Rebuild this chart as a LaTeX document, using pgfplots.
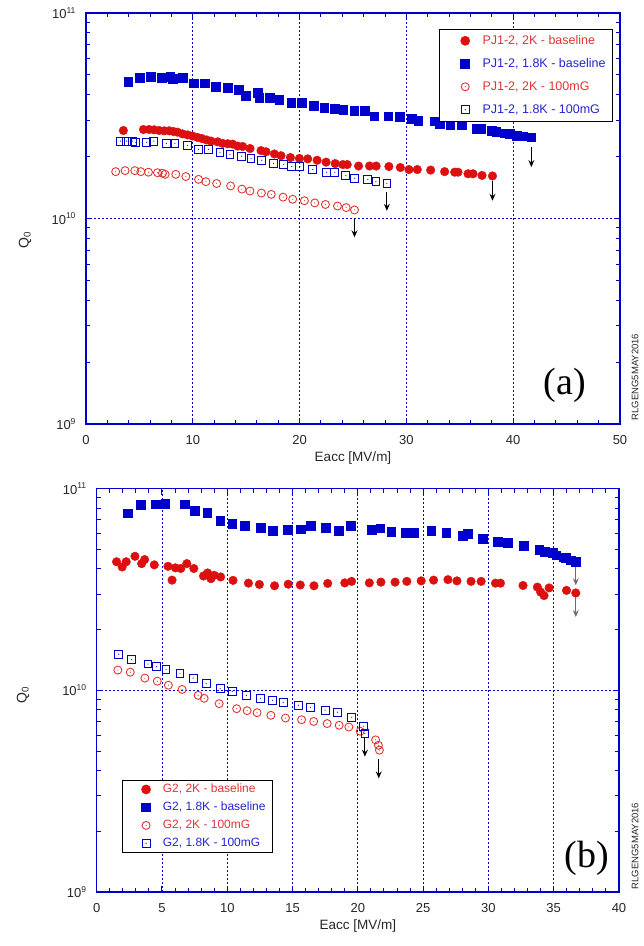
\documentclass[border=0pt]{standalone}
\usepackage{fontspec}
\setmainfont{Liberation Sans}
\newfontfamily\seriffont{Liberation Serif}
\usepackage{pgfplots}
\pgfplotsset{compat=1.18}
\usetikzlibrary{arrows.meta}
\definecolor{qblue}{HTML}{0000CC}
\definecolor{qred}{HTML}{DD1010}
\definecolor{lred}{HTML}{E33434}
\definecolor{lblue}{HTML}{2424D4}
\definecolor{arrgray}{HTML}{6E6E6E}
\newcommand{\dec}[1]{10\raisebox{0.42em}{\fontsize{8.5}{9}\selectfont #1}}
% open marks with a dot in the middle
\pgfdeclareplotmark{odot}{%
  \pgfpathcircle{\pgfpointorigin}{\pgfplotmarksize}\pgfusepathqstroke
  \pgfpathcircle{\pgfpointorigin}{0.6pt}\pgfusepathqfill}
\pgfdeclareplotmark{sdot}{%
  \pgfpathrectangle{\pgfpoint{-\pgfplotmarksize}{-\pgfplotmarksize}}%
    {\pgfpoint{2\pgfplotmarksize}{2\pgfplotmarksize}}\pgfusepathqstroke
  \pgfpathcircle{\pgfpointorigin}{0.6pt}\pgfusepathqfill}
\tikzset{arr/.style={-{Stealth[length=7pt,width=6pt,inset=2.5pt]},line width=1pt,black}}
\pgfplotsset{
  myax/.style={
    ytick={1e9,1e10,1e11}, yticklabels={\dec{9},\dec{10},\dec{11}},
    minor ytick={2e9,3e9,4e9,5e9,6e9,7e9,8e9,9e9,2e10,3e10,4e10,5e10,6e10,7e10,8e10,9e10},
    axis line style={qblue,line width=1.2pt},
    tick style={qblue,line width=1pt},
    major tick length=6pt, minor tick length=4pt,
    xmajorgrids, ymajorgrids,
    major grid style={qblue,line width=0.9pt,dash pattern=on 2pt off 2pt},
    tick label style={font=\fontsize{13}{15}\selectfont,text=black!85},
    /pgf/number format/assume math mode=true,
    xticklabel style={yshift=-8pt}, yticklabel style={xshift=-7pt},
    xlabel={Eacc [MV/m]},
    xlabel style={font=\fontsize{13.5}{15}\selectfont,text=black!85},
    clip=false, legend cell align=left,
  },
  lega/.style={legend image code/.code={\path (-20pt,0pt) (0pt,0pt); \draw[##1] plot coordinates {(0pt,0pt)};}},
  legb/.style={legend image code/.code={\path (-18pt,0pt) (0pt,0pt); \draw[##1] plot coordinates {(0pt,0pt)};}},
  s2b/.style={only marks,mark=*,mark size=4.3pt,color=qred},
  s18b/.style={only marks,mark=square*,mark size=4.3pt,color=qblue},
  s2m/.style={only marks,mark=odot,mark size=4pt,color=lred,line width=0.9pt},
  s18m/.style={only marks,mark=sdot,mark size=3.9pt,color=qblue,line width=0.9pt},
}
\begin{document}
\begin{tikzpicture}
\path[use as bounding box] (0pt,0pt) rectangle (644pt,946pt);

% ---------- (a) ----------
\begin{axis}[myax, lega, scale only axis, anchor=south west, ymode=log, ymin=1e9, ymax=1e11,
  at={(86pt,522pt)}, width=534pt, height=411pt,
  xmin=0, xmax=50, xtick={0,10,...,50}, minor x tick num=4,
  legend style={at={(0.987,0.961)},anchor=north east,draw=black,line width=1.1pt,
    font=\fontsize{12.5}{14}\selectfont,inner xsep=5pt,inner ysep=3.5pt,row sep=7.5pt,
    nodes={inner sep=2pt,text height=9pt,text depth=2.5pt},
    /tikz/every odd column/.append style={column sep=11pt}},
]
\addplot[s2b] coordinates {(3.5,2.68e10)(5.38,2.71e10)(5.91,2.71e10)(6.38,2.70e10)(6.85,2.68e10)
 (7.32,2.67e10)(7.79,2.67e10)(8.19,2.65e10)(8.57,2.63e10)(9.04,2.58e10)(9.51,2.55e10)(9.97,2.52e10)
 (10.44,2.48e10)(10.85,2.45e10)(11.29,2.41e10)(11.7,2.38e10)(12.32,2.36e10)(12.79,2.32e10)
 (13.26,2.31e10)(13.73,2.30e10)(14.2,2.25e10)(14.67,2.24e10)(15.36,2.19e10)(16.39,2.14e10)
 (16.86,2.11e10)(17.64,2.06e10)(18.26,2.02e10)(19.14,1.98e10)(19.98,1.96e10)(20.76,1.95e10)
 (21.64,1.92e10)(22.48,1.88e10)(23.33,1.85e10)(24.05,1.83e10)(24.46,1.83e10)(25.52,1.80e10)
 (26.55,1.80e10)(27.17,1.80e10)(28.36,1.79e10)(29.43,1.77e10)(30.24,1.73e10)(31.02,1.73e10)
 (32.27,1.72e10)(33.58,1.69e10)(34.52,1.68e10)(34.83,1.68e10)(35.77,1.65e10)(36.24,1.65e10)
 (37.08,1.62e10)(38.06,1.61e10)};
\addlegendentry{\textcolor{lred}{PJ1-2, 2K - baseline}}
\addplot[s18b] coordinates {(3.97,4.63e10)(5.0,4.84e10)(6.03,4.91e10)(7.06,4.84e10)(7.88,4.91e10)
 (8.1,4.80e10)(9.04,4.84e10)(10.07,4.55e10)(11.1,4.55e10)(12.13,4.39e10)(13.25,4.32e10)(14.3,4.23e10)
 (14.98,3.96e10)(16.07,4.09e10)(16.2,3.86e10)(17.2,3.86e10)(18.1,3.78e10)(19.2,3.65e10)(20.2,3.65e10)
 (21.3,3.55e10)(22.3,3.45e10)(23.3,3.41e10)(24.1,3.38e10)(25.1,3.35e10)(26.1,3.35e10)(27.0,3.15e10)
 (28.3,3.14e10)(29.4,3.12e10)(30.5,3.05e10)(31.1,2.99e10)(32.6,2.97e10)(33.1,2.89e10)(34.1,2.86e10)
 (35.2,2.86e10)(36.6,2.73e10)(37.0,2.73e10)(38.0,2.67e10)(38.4,2.65e10)(39.2,2.60e10)(39.7,2.58e10)
 (40.3,2.52e10)(40.9,2.51e10)(41.7,2.49e10)};
\addlegendentry{\textcolor{lblue}{PJ1-2, 1.8K - baseline}}
\addplot[s2m] coordinates {(2.78,1.69e10)(3.66,1.71e10)(4.57,1.71e10)(5.13,1.69e10)(5.85,1.68e10)
 (6.69,1.67e10)(7.16,1.66e10)(7.41,1.64e10)(8.41,1.64e10)(9.35,1.60e10)(10.54,1.55e10)(11.23,1.51e10)
 (12.23,1.48e10)(13.54,1.44e10)(14.6,1.39e10)(15.35,1.36e10)(16.42,1.33e10)(17.35,1.31e10)
 (18.45,1.27e10)(19.35,1.24e10)(20.45,1.22e10)(21.42,1.19e10)(22.42,1.17e10)(23.55,1.15e10)
 (24.36,1.13e10)(25.14,1.10e10)};
\addlegendentry{\textcolor{lred}{PJ1-2, 2K - 100mG}}
\addplot[s18m] coordinates {(3.22,2.38e10)(3.78,2.38e10)(4.35,2.38e10)(4.66,2.34e10)(5.69,2.35e10)
 (6.35,2.38e10)(7.53,2.32e10)(8.32,2.32e10)(9.51,2.27e10)(10.54,2.17e10)(11.48,2.17e10)(12.54,2.10e10)
 (13.48,2.05e10)(14.57,2.01e10)(15.45,1.96e10)(16.45,1.92e10)(17.57,1.85e10)(18.51,1.83e10)
 (19.26,1.79e10)(20.01,1.79e10)(21.23,1.73e10)(22.54,1.68e10)(23.3,1.68e10)(24.33,1.62e10)
 (25.17,1.57e10)(26.39,1.55e10)(27.14,1.51e10)(28.17,1.48e10)};
\addlegendentry{\textcolor{lblue}{PJ1-2, 1.8K - 100mG}}
\draw[arr] (axis cs:41.7,2.23e10) -- (axis cs:41.7,1.78e10);
\draw[arr] (axis cs:38.06,1.53e10) -- (axis cs:38.06,1.22e10);
\draw[arr] (axis cs:28.17,1.34e10) -- (axis cs:28.17,1.09e10);
\draw[arr] (axis cs:25.14,1.0e10) -- (axis cs:25.14,8.1e9);
\node[font=\seriffont\fontsize{38}{40}\selectfont] at (rel axis cs:0.897,0.095) {(a)};
\end{axis}
\node[rotate=90,font=\fontsize{14}{16}\selectfont,text=black!85] at (25pt,706pt) {Q\textsubscript{0}};
\node[rotate=90,font=\fontsize{9.5}{11}\selectfont,text=black!85] at (635pt,569pt) {RLGENG5MAY2016};

% ---------- (b) ----------
\begin{axis}[myax, legb, scale only axis, anchor=south west, ymode=log, ymin=1e9, ymax=1e11,
  at={(96.7pt,54pt)}, width=522.3pt, height=403.3pt,
  xmin=0, xmax=40, xtick={0,5,...,40}, minor x tick num=4,
  legend style={at={(0.0484,0.0967)},anchor=south west,draw=black,line width=1.1pt,
    font=\fontsize{12}{14}\selectfont,inner xsep=5pt,inner ysep=1.9pt,row sep=3.8pt,
    nodes={inner sep=1.5pt,text height=8.7pt,text depth=2.5pt},
    /tikz/every odd column/.append style={column sep=11pt}},
]
\addplot[s2b] coordinates {(1.52,4.34e10)(1.95,4.09e10)(2.26,4.34e10)(2.93,4.62e10)(3.44,4.25e10)
 (3.67,4.45e10)(4.41,4.19e10)(5.46,4.12e10)(5.77,3.52e10)(6.03,4.05e10)(6.44,4.02e10)(6.9,4.25e10)
 (7.44,4.02e10)(8.18,3.69e10)(8.49,3.82e10)(8.75,3.58e10)(9.0,3.72e10)(9.49,3.65e10)(10.44,3.51e10)
 (11.62,3.40e10)(12.46,3.35e10)(13.62,3.30e10)(14.67,3.36e10)(15.59,3.33e10)(16.64,3.30e10)
 (17.69,3.39e10)(19.0,3.41e10)(19.52,3.47e10)(20.88,3.41e10)(21.77,3.44e10)(22.85,3.44e10)
 (23.75,3.47e10)(24.85,3.49e10)(25.8,3.52e10)(26.9,3.54e10)(27.59,3.49e10)(28.67,3.47e10)
 (29.44,3.47e10)(30.54,3.40e10)(30.92,3.40e10)(32.65,3.31e10)(33.75,3.25e10)(34.0,3.07e10)
 (34.26,2.95e10)(34.65,3.22e10)(35.98,3.13e10)(36.69,3.04e10)};
\addlegendentry{\textcolor{lred}{G2, 2K - baseline}}
\addplot[s18b] coordinates {(2.38,7.57e10)(3.38,8.33e10)(4.54,8.39e10)(5.26,8.43e10)(6.72,8.36e10)
 (7.49,7.78e10)(8.46,7.60e10)(9.46,6.94e10)(10.38,6.72e10)(11.34,6.56e10)(12.54,6.41e10)(13.46,6.20e10)
 (14.62,6.27e10)(15.62,6.31e10)(16.38,6.56e10)(17.52,6.41e10)(18.54,6.20e10)(19.46,6.56e10)
 (21.05,6.27e10)(21.72,6.36e10)(22.54,6.12e10)(23.67,6.05e10)(24.28,6.05e10)(25.62,6.20e10)
 (26.77,6.05e10)(28.05,5.85e10)(28.41,5.99e10)(29.57,5.65e10)(30.69,5.47e10)(31.46,5.41e10)
 (32.69,5.20e10)(33.88,4.99e10)(34.31,4.86e10)(34.9,4.80e10)(35.18,4.68e10)(35.72,4.58e10)
 (35.92,4.55e10)(36.31,4.42e10)(36.69,4.35e10)};
\addlegendentry{\textcolor{lblue}{G2, 1.8K - baseline}}
\addplot[s2m] coordinates {(1.62,1.26e10)(2.57,1.23e10)(3.69,1.15e10)(4.64,1.11e10)(5.49,1.06e10)
 (6.54,1.01e10)(7.77,9.44e9)(8.23,9.13e9)(9.38,8.59e9)(10.72,8.11e9)(11.52,7.93e9)(12.28,7.75e9)
 (13.34,7.52e9)(14.46,7.29e9)(15.69,7.15e9)(16.62,7.01e9)(17.65,6.84e9)(18.57,6.71e9)(19.31,6.58e9)
 (20.18,6.27e9)(21.36,5.68e9)(21.57,5.34e9)(21.65,5.05e9)};
\addlegendentry{\textcolor{lred}{G2, 2K - 100mG}}
\addplot[s18m] coordinates {(1.69,1.51e10)(2.67,1.42e10)(3.92,1.35e10)(4.59,1.31e10)(5.31,1.27e10)
 (6.38,1.21e10)(7.38,1.15e10)(8.38,1.08e10)(9.46,1.02e10)(10.38,9.89e9)(11.46,9.44e9)(12.54,9.13e9)
 (13.46,8.92e9)(14.28,8.72e9)(15.44,8.43e9)(16.38,8.24e9)(17.49,7.98e9)(18.44,7.78e9)(19.54,7.35e9)
 (20.41,6.65e9)(20.54,6.12e9)};
\addlegendentry{\textcolor{lblue}{G2, 1.8K - 100mG}}
\draw[arr,arrgray] (axis cs:36.69,4.08e10) -- (axis cs:36.69,3.32e10);
\draw[arr,arrgray] (axis cs:36.69,2.89e10) -- (axis cs:36.69,2.31e10);
\draw[arr] (axis cs:20.54,5.78e9) -- (axis cs:20.54,4.69e9);
\draw[arr] (axis cs:21.6,4.55e9) -- (axis cs:21.6,3.66e9);
\node[font=\seriffont\fontsize{38}{40}\selectfont] at (rel axis cs:0.939,0.084) {(b)};
\end{axis}
\node[rotate=90,font=\fontsize{14}{16}\selectfont,text=black!85] at (23pt,251pt) {Q\textsubscript{0}};
\node[rotate=90,font=\fontsize{9.5}{11}\selectfont,text=black!85] at (635pt,100pt) {RLGENG5MAY2016};
\end{tikzpicture}
\end{document}
